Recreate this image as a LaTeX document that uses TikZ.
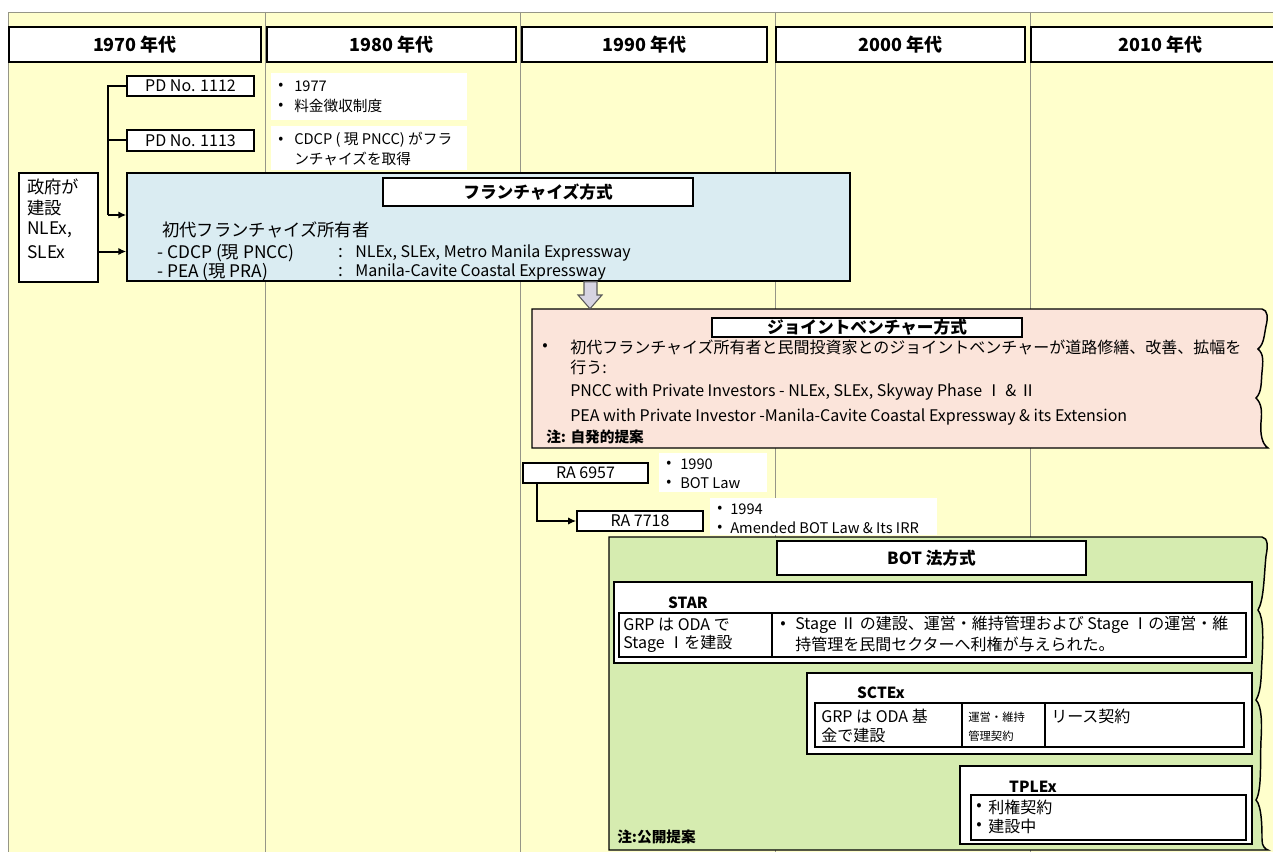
\documentclass[tikz,border=0pt]{standalone}
\usepackage{fontspec}
\setmainfont{Noto Sans CJK JP}
\usetikzlibrary{arrows.meta}
\definecolor{bgy}{RGB}{255,255,204}
\definecolor{bblue}{RGB}{218,236,242}
\definecolor{bpink}{RGB}{251,228,218}
\definecolor{bgreen}{RGB}{214,236,176}
\definecolor{gline}{RGB}{150,150,135}
\definecolor{arrfill}{RGB}{214,212,226}
\definecolor{arrdraw}{RGB}{90,90,90}
\tikzset{
  box/.style={draw, line width=1.2pt, fill=white, inner sep=0pt},
  hdr/.style={box, font=\fontsize{13.5}{16}\selectfont\bfseries},
  ttl/.style={box, font=\fontsize{12.5}{15}\selectfont\bfseries},
  law/.style={box, font=\fontsize{12}{14}\selectfont},
  note/.style={fill=white, inner sep=0pt},
  area/.style={draw, line width=1.1pt, inner sep=0pt},
  ta/.style={inner sep=0pt, anchor=west, font=\fontsize{12}{14}\selectfont},
  tl/.style={inner sep=0pt, anchor=west, font=\fontsize{13}{15}\selectfont},
  tb/.style={inner sep=0pt, anchor=west, font=\fontsize{11}{13}\selectfont},
  tbb/.style={inner sep=0pt, anchor=west, font=\fontsize{11}{13}\selectfont\bfseries},
  ts/.style={inner sep=0pt, anchor=west, font=\fontsize{8.5}{10}\selectfont},
  tcen/.style={inner sep=0pt, anchor=center, font=\fontsize{11.5}{14}\selectfont\bfseries},
  conn/.style={line width=1.5pt},
  tip/.style={-{Latex[length=6pt,width=5.5pt]}},
  col/.style={gline, line width=0.7pt},
}
% box from (x1,y1) to (x2,y2) in pixel units, text centred
\newcommand{\bx}[7]{%
  \pgfmathsetmacro\bxw{(#5-#3)*0.75}%
  \pgfmathsetmacro\bxh{(#6-#4)*0.75}%
  \pgfmathsetmacro\bxcx{(#3+#5)/2}%
  \pgfmathsetmacro\bxcy{(#4+#6)/2}%
  \node[#1, minimum width=\bxw pt, minimum height=\bxh pt, anchor=center] (#2) at (\bxcx,\bxcy) {#7};}
\begin{document}
\begin{tikzpicture}[x=0.75pt,y=-0.75pt]
\useasboundingbox (0,0) rectangle (1273,852);
\fill[white] (0,0) rectangle (1273,852);
\fill[bgy] (8,12) rectangle (1273,852);
\draw[col] (8,852) -- (8,12) -- (1273,12);
\foreach \cx in {265,520,775,1030} \draw[col] (\cx,12) -- (\cx,852);

% headers
\bx{hdr}{h70}{9}{27}{261}{62}{1970 年代}
\bx{hdr}{h80}{267}{27}{516}{62}{1980 年代}
\bx{hdr}{h90}{522}{27}{767}{62}{1990 年代}
\bx{hdr}{h00}{776}{27}{1025}{62}{2000 年代}
\bx{hdr}{h10}{1031}{27}{1290}{62}{2010 年代}

% PD laws
\bx{law}{pd1}{127}{76}{254}{96}{PD No. 1112}
\bx{law}{pd2}{127}{130}{254}{151}{PD No. 1113}
\bx{note}{n1}{271}{73}{467}{120}{}
\node[tb] (n1b1) at (278,86) {•};
\node[tb] (n1t1) at (294,86) {1977};
\node[tb] (n1b2) at (278,106) {•};
\node[tb] (n1t2) at (294,106) {料金徴収制度};
\bx{note}{n2}{271}{126}{467}{170}{}
\node[tb] (n2b1) at (278,140) {•};
\node[tb] (n2t1) at (294,140) {CDCP ( 現 PNCC) がフラ};
\node[tb] (n2t2) at (294,159) {ンチャイズを取得};

% government box
\bx{box}{gov}{19}{173}{98}{282}{}
\node[tl] (g1) at (27,187) {政府が};
\node[tl] (g2) at (27,208) {建設};
\node[tl] (g3) at (27,230) {NLEx,};
\node[tl] (g4) at (27,252) {SLEx};

% franchise
\bx{area, fill=bblue}{fr}{127}{173}{850}{281}{}
\bx{ttl}{frt}{383}{178}{693}{206}{フランチャイズ方式}
\node[tl] (f1) at (162,230) {初代フランチャイズ所有者};
\node[tl] (f2a) at (157,253) {- CDCP (現 PNCC)};
\node[tl] (f2b) at (338,253) {:};
\node[ta] (f2c) at (355,253) {NLEx, SLEx, Metro Manila Expressway};
\node[tl] (f3a) at (157,272) {- PEA (現 PRA)};
\node[tl] (f3b) at (338,272) {:};
\node[ta] (f3c) at (355,272) {Manila-Cavite Coastal Expressway};

% tree connectors
\coordinate (tj) at (108,215);
\draw[conn] (pd1.west) -| (tj);
\draw[conn] (pd2.west) -- (pd2.west -| tj);
\draw[conn, tip] (tj) -- (tj -| fr.west);
\draw[conn, tip] ([yshift=-18pt]gov.east) -- ([yshift=-18pt]gov.east -| fr.west);

% joint venture
\path[area, fill=bpink] (532,309) -- (1262,309)
  .. controls (1268,310) and (1268,318) .. (1266,326)
  .. controls (1264,336) and (1264,344) .. (1258,349)
  .. controls (1264,354) and (1263,362) .. (1262,372)
  .. controls (1261,382) and (1262,392) .. (1256,398)
  .. controls (1262,404) and (1262,412) .. (1261,422)
  .. controls (1260,434) and (1262,444) .. (1268,448)
  -- (532,448) -- cycle;
\bx{inner sep=0pt}{jv}{532}{309}{1262}{448}{}
\bx{ttl}{jvt}{712}{318}{1022}{337}{ジョイントベンチャー方式}
\node[ta] (j0) at (542,347) {•};
\node[ta] (j1) at (570,347) {初代フランチャイズ所有者と民間投資家とのジョイントベンチャーが道路修繕、改善、拡幅を};
\node[ta] (j2) at (570,367) {行う:};
\node[ta] (j3) at (570,392) {PNCC with Private Investors - NLEx, SLEx, Skyway Phase Ⅰ \& Ⅱ};
\node[ta] (j4) at (570,417) {PEA with Private Investor -Manila-Cavite Coastal Expressway \& its Extension};
\node[tbb] (j5) at (546,437) {注: 自発的提案};

% block arrow franchise -> JV
\draw[arrdraw, fill=arrfill, line width=0.8pt] (fr.south -| 584,0) -- (fr.south -| 597,0) -- (597,295) -- (602,295) -- (jv.north -| 590,0) -- (578,295) -- (584,295) -- cycle;

% RA laws
\bx{law}{ra1}{523}{463}{648}{483}{RA 6957}
\bx{note}{ra1n}{659}{453}{767}{492}{}
\node[tb] (r1b1) at (666,464) {•};
\node[tb] (r1t1) at (680,464) {1990};
\node[tb] (r1b2) at (666,483) {•};
\node[tb] (r1t2) at (680,483) {BOT Law};
\bx{law}{ra2}{577}{511}{703}{531}{RA 7718}
\bx{note}{ra2n}{710}{498}{937}{535}{}
\node[tb] (r2b1) at (717,509) {•};
\node[tb] (r2t1) at (730,509) {1994};
\node[tb] (r2b2) at (717,528) {•};
\node[tb] (r2t2) at (730,528) {Amended BOT Law \& Its IRR};
\draw[conn, tip] ([xshift=11pt]ra1.south west) |- (ra2.west);

% BOT
\path[area, fill=bgreen] (609,537) -- (1262,537)
  .. controls (1268,538) and (1268,546) .. (1266,556)
  .. controls (1264,575) and (1264,600) .. (1258,610)
  .. controls (1264,618) and (1263,640) .. (1262,660)
  .. controls (1261,672) and (1262,690) .. (1256,700)
  .. controls (1262,706) and (1262,725) .. (1261,740)
  .. controls (1260,760) and (1262,790) .. (1256,800)
  .. controls (1262,806) and (1262,830) .. (1262,840)
  .. controls (1262,846) and (1265,849) .. (1268,850)
  -- (609,850) -- cycle;
\bx{ttl}{bott}{777}{541}{1086}{575}{BOT 法方式}

% STAR
\bx{box}{star}{614}{582}{1252}{663}{}
\node[tcen] (starl) at (688,603) {STAR};
\bx{box}{startb}{619}{613}{1246}{657}{}
\draw[line width=1.2pt] (startb.north -| 772,0) -- (startb.south -| 772,0);
\node[ta] (s1) at (623,625) {GRP は ODA で};
\node[ta] (s2) at (623,644) {Stage Ⅰを建設};
\node[ta] (s3) at (780,625) {•};
\node[ta] (s4) at (795,625) {Stage Ⅱ の建設、運営・維持管理および Stage Ⅰの運営・維};
\node[ta] (s5) at (795,644) {持管理を民間セクターへ利権が与えられた。};

% SCTEx
\bx{box}{sct}{807}{673}{1252}{754}{}
\node[tcen] (sctl) at (881,693) {SCTEx};
\bx{box}{scttb}{815}{703}{1244}{747}{}
\draw[line width=1.2pt] (scttb.north -| 962,0) -- (scttb.south -| 962,0);
\draw[line width=1.2pt] (scttb.north -| 1045,0) -- (scttb.south -| 1045,0);
\node[ta] (c1) at (821,716) {GRP は ODA 基};
\node[ta] (c2) at (821,735) {金で建設};
\node[ts] (c3) at (968,717) {運営・維持};
\node[ts] (c4) at (968,736) {管理契約};
\node[ta] (c5) at (1051,716) {リース契約};

% TPLEx
\bx{box}{tpl}{960}{766}{1252}{844}{}
\node[tcen] (tpll) at (1033,787) {TPLEx};
\bx{box}{tpltb}{971}{795}{1246}{840}{}
\node[ta] (p1) at (976,807) {•};
\node[ta] (p2) at (988,807) {利権契約};
\node[ta] (p3) at (976,826) {•};
\node[ta] (p4) at (988,826) {建設中};

\node[tbb] (bnote) at (617,837) {注:公開提案};
\end{tikzpicture}
\end{document}
